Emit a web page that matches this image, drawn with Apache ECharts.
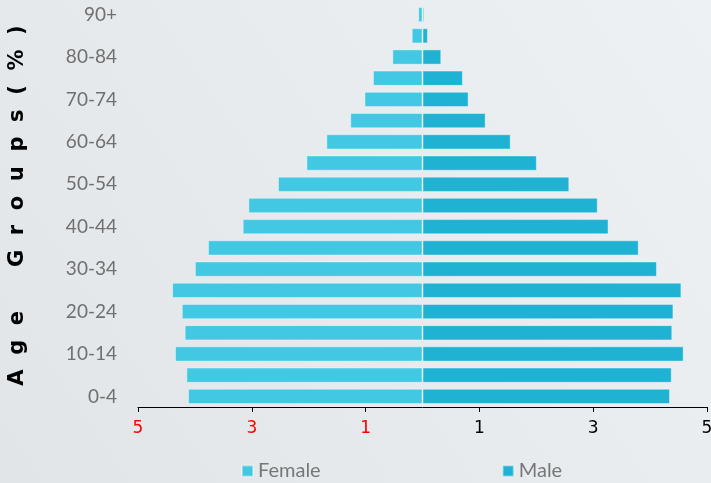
<!DOCTYPE html>
<html>
<head>
<meta charset="utf-8">
<script src="https://cdn.jsdelivr.net/npm/echarts@6/dist/echarts.min.js"></script>
<style>
html,body{margin:0;padding:0;width:711px;height:483px;overflow:hidden;}
#chart{width:711px;height:483px;}
</style>
</head>
<body>
<div id="chart"></div>
<script>
const ageGroups = ['0-4','5-9','10-14','15-19','20-24','25-29','30-34','35-39','40-44','45-49','50-54','55-59','60-64','65-69','70-74','75-79','80-84','85-89','90+'];
const femaleValues = [4.12,4.15,4.35,4.18,4.23,4.40,4.00,3.77,3.16,3.06,2.54,2.04,1.69,1.27,1.02,0.87,0.53,0.19,0.075];
const maleValues = [4.35,4.38,4.59,4.39,4.41,4.55,4.12,3.80,3.27,3.08,2.58,2.01,1.55,1.11,0.81,0.71,0.33,0.095,0.03];
const seriesNames = ['Female','Male'];
const yAxisTitle = 'A  g  e      G  r  o  u  p  s  (  %  )';

const chart = echarts.init(document.getElementById('chart'));
chart.setOption({
  backgroundColor: {
    type: 'linear', x: 0, y: 1, x2: 1, y2: 0,
    colorStops: [
      {offset: 0, color: '#e1e5e8'},
      {offset: 0.5, color: '#e7ebee'},
      {offset: 1, color: '#eef1f4'}
    ]
  },
  animation: false,
  legend: {
    data: seriesNames,
    left: 236,
    top: 456,
    itemWidth: 11,
    itemHeight: 11,
    itemGap: 181,
    icon: 'rect',
    textStyle: {fontFamily: 'Lato', fontSize: 20, color: '#777777'}
  },
  grid: {left: 138, right: 4, top: 4, bottom: 76, containLabel: false, outerBoundsMode: 'none'},
  xAxis: {
    type: 'value',
    min: -5, max: 5, interval: 2,
    axisLine: {show: true, lineStyle: {color: '#000', width: 1}},
    axisTick: {show: true, length: 5, lineStyle: {color: '#000'}},
    splitLine: {show: false},
    axisLabel: {
      margin: 13,
      fontFamily: 'DejaVu Sans',
      fontSize: 17,
      formatter: v => String(Math.abs(v)),
      color: v => (v < 0 ? '#ff0000' : '#000000')
    }
  },
  yAxis: {
    type: 'category',
    data: ageGroups,
    axisLine: {show: false},
    axisTick: {show: false},
    axisLabel: {interval: 1, margin: 21, fontFamily: 'Lato', fontSize: 19, color: '#707070'},
    name: yAxisTitle,
    nameLocation: 'middle',
    nameRotate: 90,
    nameGap: 110,
    nameTextStyle: {fontFamily: 'DejaVu Sans', fontWeight: 'bold', fontSize: 21, color: '#000'}
  },
  series: [
    {
      name: seriesNames[0], type: 'bar', barWidth: '72%', barGap: '-100%',
      itemStyle: {color: '#42c8e2', borderColor: 'rgba(255,255,255,0.4)', borderWidth: 1},
      data: femaleValues.map(v => -v)
    },
    {
      name: seriesNames[1], type: 'bar', barWidth: '72%',
      itemStyle: {color: '#20b2d2', borderColor: 'rgba(255,255,255,0.4)', borderWidth: 1},
      data: maleValues
    }
  ]
});
</script>
</body>
</html>
